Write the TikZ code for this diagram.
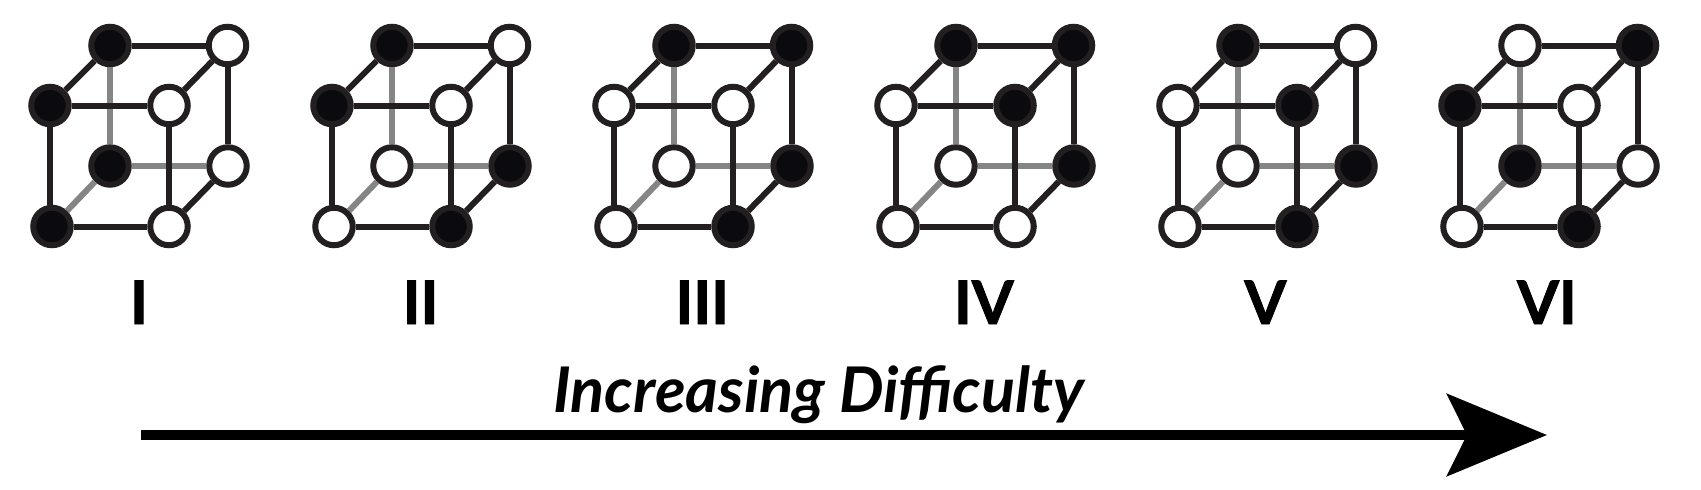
\documentclass[tikz,border=0pt]{standalone}
\usepackage{fontspec}
\setmainfont{Lato}
\newfontfamily\romanfont[BoldFeatures={FakeBold=1.6}]{Lato}
\usetikzlibrary{positioning, arrows.meta}
\definecolor{sitedark}{HTML}{0A0A0F}
\definecolor{linedark}{HTML}{231F20}
\definecolor{linegray}{HTML}{858585}

\begin{document}
\begin{tikzpicture}[x=1pt, y=1pt,
    fullsite/.style={circle, draw=linedark, fill=sitedark, line width=6pt, inner sep=0pt, minimum size=37.5pt},
    emptysite/.style={circle, draw=linedark, fill=white, line width=6pt, inner sep=0pt, minimum size=37.5pt},
    frontedge/.style={draw=linedark, line width=6pt},
    backedge/.style={draw=linegray, line width=6pt},
    rec/.style={inner sep=0pt, outer sep=0pt, anchor=base, font=\fontsize{60}{60}\romanfont\bfseries},
    hrec/.style={inner sep=0pt, outer sep=0pt, anchor=base, font=\fontsize{63}{63}\selectfont\bfseries\itshape}]

  \useasboundingbox (0,0) rectangle (1701,-490);

  \foreach \idx/\tl/\sa/\sb/\sc/\sd/\se/\sf/\sg/\sh [count=\n from 0] in {
      one/I/fullsite/emptysite/fullsite/emptysite/fullsite/emptysite/fullsite/emptysite,
      two/II/fullsite/emptysite/fullsite/emptysite/emptysite/fullsite/emptysite/fullsite,
      three/III/fullsite/fullsite/emptysite/emptysite/emptysite/fullsite/emptysite/fullsite,
      four/IV/fullsite/fullsite/emptysite/fullsite/emptysite/fullsite/emptysite/emptysite,
      five/V/fullsite/emptysite/emptysite/fullsite/emptysite/fullsite/emptysite/fullsite,
      six/VI/emptysite/fullsite/fullsite/emptysite/fullsite/emptysite/emptysite/fullsite} {

    % sites of the cube, back face then front face
    \node[\sa] at (110+282*\n,-45.5) (\idx a) {};
    \node[\sb, right of = \idx a, node distance=117.5pt](\idx b) {};
    \node[\sc, below of = \idx a, node distance=60pt, xshift=-60pt](\idx c) {};
    \node[\sd, right of = \idx c, node distance=119pt](\idx d) {};
    \node[\se, below of = \idx a, node distance=120.5pt](\idx e) {};
    \node[\sf, right of = \idx e, node distance=118pt](\idx f) {};
    \node[\sg, below of = \idx c, node distance=121pt, xshift=2pt](\idx g) {};
    \node[\sh, right of = \idx g, node distance=117pt](\idx h) {};

    % hidden edges go under the others
    \draw[backedge] (\idx a) -- (\idx e);
    \draw[backedge] (\idx e) -- (\idx f);
    \draw[backedge] (\idx e) -- (\idx g);

    \draw[frontedge] (\idx a) -- (\idx b);
    \draw[frontedge] (\idx c) -- (\idx d);
    \draw[frontedge] (\idx g) -- (\idx h);
    \draw[frontedge] (\idx a) -- (\idx c);
    \draw[frontedge] (\idx b) -- (\idx d);
    \draw[frontedge] (\idx f) -- (\idx h);
    \draw[frontedge] (\idx c.south) -- (\idx c |- \idx g.north);
    \draw[frontedge] (\idx d) -- (\idx h);
    \draw[frontedge] (\idx f |- \idx b.south) -- (\idx f.north);

    \node[rec] at (139+281.6*\n,-324) (\idx label) {\tl};
  }

  \coordinate (start) at (141,-435);
  \coordinate (tip) at (1547,-435);
  \draw[line width=10pt, -{Stealth[length=100pt, width=82pt, inset=20pt]}] (start) -- (tip);

  \node[hrec] at (819,-412) (difficulty) {Increasing Difficulty};
\end{tikzpicture}
\end{document}
